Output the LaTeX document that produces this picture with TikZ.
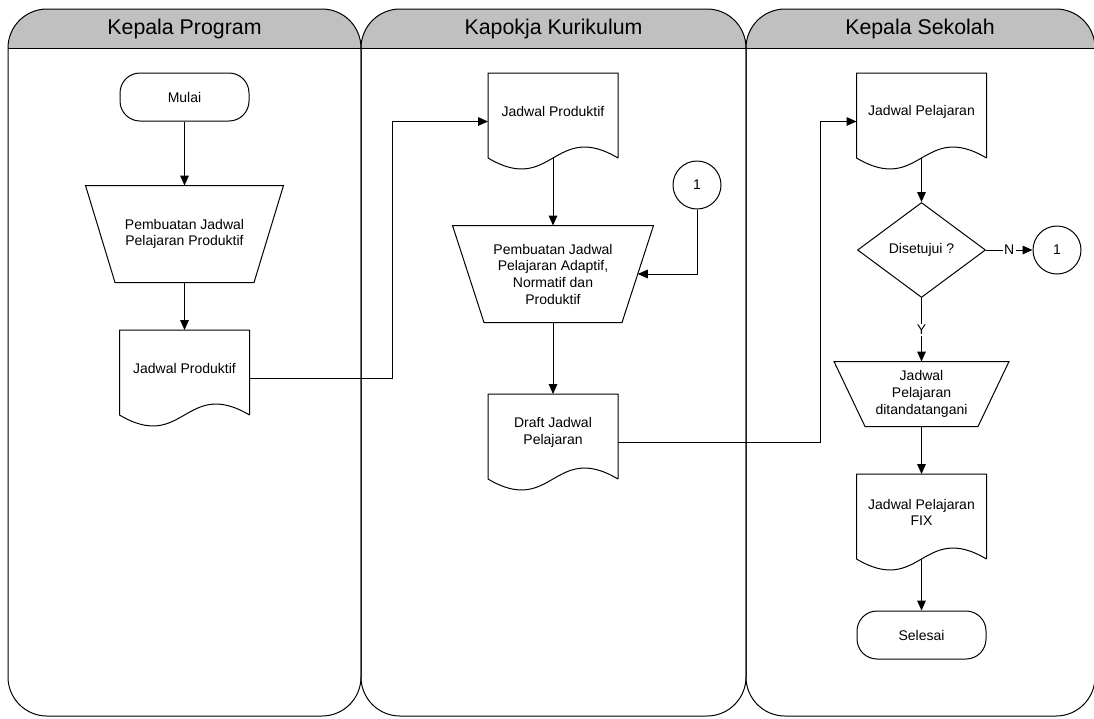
\documentclass[tikz,border=0pt]{standalone}
\usepackage{fontspec}
\setmainfont{Liberation Sans}
\usetikzlibrary{shapes.geometric,arrows.meta}

\definecolor{headgray}{RGB}{192,192,192}

\tikzset{every picture/.style={line width=0.75pt}}
\tikzset{
  lbl/.style={font=\fontsize{10.5}{12.5}\selectfont, align=center},
  lanetitle/.style={font=\fontsize{16}{19}\selectfont},
  terminal/.style={lbl, draw, rectangle, rounded corners=15pt, minimum width=96.75pt, minimum height=36pt},
  manual/.style={lbl, rectangle, inner sep=0pt},
  docnode/.style={lbl, rectangle, minimum width=96.75pt, minimum height=57pt, anchor=north, inner sep=0pt},
  decision/.style={lbl, draw, diamond, minimum width=96pt, minimum height=71.25pt, inner sep=0pt},
  offpage/.style={lbl, draw, circle, minimum size=36pt, inner sep=0pt},
  yn/.style={lbl, fill=white, inner sep=1pt},
  arr/.style={-{Triangle[length=7.5pt,width=6.5pt]}}
}

% outline of a document symbol round a docnode, with its connection points
\newcommand{\docshape}[1]{%
  \path (#1.north west) ++(0,85) coordinate (#1-sw)
        (#1.north east) ++(0,85) coordinate (#1-se)
        (#1.north) ++(0,85) coordinate (#1-s)
        (#1.north west) ++(0,48.5) coordinate (#1-w)
        (#1.north east) ++(0,48.5) coordinate (#1-e);
  \draw (#1-se) -- (#1.north east) -- (#1.north west) -- (#1-sw) .. controls +(64,38) and +(-64,-38) .. (#1-se);
}
% outline of a manual operation round a manual node, #2 = inset of the lower corners
\newcommand{\manshape}[2]{%
  \path (#1.south east) ++(-#2,0) coordinate (#1-se)
        (#1.south west) ++(#2,0) coordinate (#1-sw)
        (#1.east) ++(-#2/2,0) coordinate (#1-e);
  \draw (#1.north west) -- (#1.north east) -- (#1-se) -- (#1-sw) -- cycle;
}

\begin{document}
\begin{tikzpicture}[x=0.75pt,y=0.75pt,yscale=-1,xscale=1]
\useasboundingbox (0,0) rectangle (1094,718);

%Lane headers
\fill [headgray] (8,48) arc (180:270:39) -- (322,9) arc (270:360:39) -- cycle;
\fill [headgray] (361,48) arc (180:270:39) -- (707,9) arc (270:360:39) -- cycle;
\fill [headgray] (746,48) arc (180:270:39) -- (1056,9) arc (270:360:39) -- cycle;
%Lanes
\draw [rounded corners=29.25pt] (8,9) rectangle (361,716);
\draw [rounded corners=29.25pt] (361,9) rectangle (746,716);
\draw [rounded corners=29.25pt] (746,9) rectangle (1095,716);
\draw (8,48) -- (1095,48);

% Text Node
\node [lanetitle] (hprog) at (184.5,28.5) {Kepala Program};
% Text Node
\node [lanetitle] (hkur) at (553.5,28.5) {Kapokja Kurikulum};
% Text Node
\node [lanetitle] (hsek) at (920,28.5) {Kepala Sekolah};

%Kepala Program
\node [terminal] (mulai) at (184.5,97) {Mulai};
\node [manual, minimum width=147.75pt, minimum height=72pt] (pjp) at (184.5,234) {Pembuatan Jadwal\\Pelajaran Produktif};
\manshape{pjp}{29.5}
\node [docnode] (jp1) at (184.5,330) {Jadwal Produktif};
\docshape{jp1}

%Kapokja Kurikulum
\node [docnode] (jp2) at (553,73) {Jadwal Produktif};
\docshape{jp2}
\node [manual, minimum width=150pt, minimum height=72pt] (pja) at (553,274) {Pembuatan Jadwal\\Pelajaran Adaptif,\\Normatif dan\\Produktif};
\manshape{pja}{31.5}
\node [offpage] (c1) at (697,185) {1};
\node [docnode] (dj) at (553,394) {Draft Jadwal\\Pelajaran};
\docshape{dj}

%Kepala Sekolah
\node [docnode] (jpl) at (921.5,73) {Jadwal Pelajaran};
\docshape{jpl}
\node [decision] (dec) at (921.5,250) {Disetujui ?};
\node [offpage] (c2) at (1057,250) {1};
\node [manual, minimum width=130.5pt, minimum height=48pt] (jpt) at (921.5,394) {Jadwal\\Pelajaran\\ditandatangani};
\manshape{jpt}{31}
\node [docnode] (fix) at (921.5,474) {Jadwal Pelajaran\\FIX};
\docshape{fix}
\node [terminal] (selesai) at (921.5,635) {Selesai};

%Connectors
\draw [arr] (mulai.south) -- (pjp.north);
\draw [arr] (pjp.south) -- (jp1.north);
\draw [arr] (jp1-e) -- ++(143,0) |- (jp2-w);
\draw [arr] (jp2-s) -- (pja.north);
\draw [arr] (c1.south) |- (pja-e);
\draw [arr] (pja.south) -- (dj.north);
\draw [arr] (dj-e) -- ++(202,0) |- (jpl-w);
\draw [arr] (jpl-s) -- (dec.north);
\draw [arr] (dec.east) -- node [yn] {N} (c2.west);
\draw [arr] (dec.south) -- node [yn] {Y} (jpt.north);
\draw [arr] (jpt.south) -- (fix.north);
\draw [arr] (fix-s) -- (selesai.north);

\end{tikzpicture}
\end{document}
